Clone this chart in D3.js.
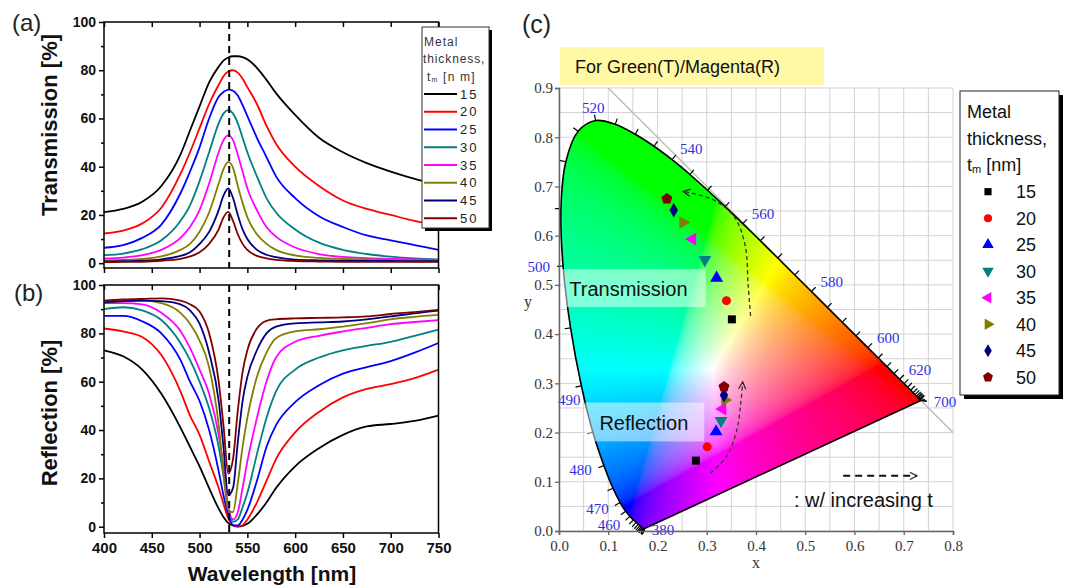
<!DOCTYPE html>
<html>
<head>
<meta charset="utf-8">
<script src="https://cdn.jsdelivr.net/npm/d3@7/dist/d3.min.js"></script>
<style>
body { margin:0; background:#fff; }
svg { display:block; font-family: Arial, "Liberation Sans", sans-serif; }
</style>
</head>
<body>
<svg id="fig" width="1072" height="587"></svg>
<script>
// ---------- spectra, panels (a) and (b) ----------
var wavelength = [400,420,440,460,480,490,500,510,520,525,530,535,540,545,550,560,570,580,600,625,650,675,700,725,750];
var thickness = [15,20,25,30,35,40,45,50];

// transmission [%]
var trans15 = [21.2,22.5,25.5,32,45,55,65,75,81.5,84,85.3,85.8,85.8,85.4,84.5,81,76,70.5,61.5,52,46,41.5,38,35,32.5];
var trans20 = [12.3,13.5,16.5,23,37,46,56,66,74,77.5,79.5,80,79,76.5,73,66,57,49.5,40,32,26,22.5,20,17.5,15.5];
var trans25 = [6.4,7.5,10.5,16,29,38,48,60,69,71,72,71.5,69.5,65.5,61,52,44,36,27,19.5,15,11.5,9.5,7.5,5.5];
var trans30 = [3.3,4,5.8,9.5,17.5,24,34,46,58,62,63.5,62,58,52,46,36,27,21,14,8.5,5.5,3.8,2.7,2,1.6];
var trans35 = [1.9,2.3,3.3,5.5,10.5,15,22,33,46,51,53,51,45,38,31,22,15,11,6.5,3.8,2.6,2.1,1.8,1.6,1.4];
var trans40 = [1.2,1.4,1.8,2.8,5.5,8,13,21,33,39,42,39.5,32,25,19,12,8,5.5,3.2,2.2,1.8,1.6,1.4,1.3,1.2];
var trans45 = [0.6,0.8,1,1.6,3,4.5,8,13,22,28,31,27,20,14,10,5.5,3.5,2.5,1.5,1.2,1,0.9,0.9,0.8,0.8];
var trans50 = [0.4,0.5,0.6,1,1.8,2.8,4.5,8,14,19,21.3,17.5,12,8,5.5,3,2,1.4,0.9,0.7,0.6,0.5,0.5,0.5,0.5];

// reflection [%]
var refl15 = [73,70.5,65,55,41,33,25,16,7.5,4,1.5,0.5,0,0.3,1.2,5,10,16,25,32.5,38,41.5,42.5,43.8,46];
var refl20 = [82,80.8,78.5,71,56,46,38,27,16,9.5,3.5,0.5,0.2,0.6,3,10,19,28,39,47.5,53.5,57,59,61.5,65];
var refl25 = [87.2,87.2,85,80,69,60,52,40,23,13,5,0.7,0.5,3,7,19,33,42,51.5,58.5,63.3,66,68.5,72,76];
var refl30 = [90,90.8,89.5,85.5,76,69,60,49,33,21,8,2,3,8,14,30,45,56,65,70,73,74.8,76.5,79,81.5];
var refl35 = [92.5,92.5,92,88.5,81,74,65,55,38,25,8,3,6,16,27,45,60,70,76.5,79,80.8,82.3,83.8,84.7,85.5];
var refl40 = [92.8,93.3,93.5,92.5,88.5,84,77,66,42,22,7,6,18,33,45,62,72,78,80.8,81.7,82.8,84.2,85.8,86.8,87.6];
var refl45 = [92.8,93.3,93.5,93.3,92,89.5,84,72,52,33,13,16,35,52,62,73,80,82.8,84.1,84.5,84.9,85.8,87,88.3,89.4];
var refl50 = [93.5,94,94.2,94.5,93.5,92,89,80,60,42,22,28,48,64,73,82,85.2,85.8,86.2,86.4,86.6,87,88,88.8,89.7];

var resonance = 531;
var xTicksW = [400,450,500,550,600,650,700,750];
var yTicksP = [0,20,40,60,80,100];

// ---------- colour coordinates, panel (c) ----------
var cieTransX = [0.351,0.340,0.320,0.296,0.271,0.252,0.233,0.219];
var cieTransY = [0.430,0.468,0.514,0.551,0.593,0.627,0.652,0.675];
var cieReflX = [0.278,0.301,0.319,0.329,0.332,0.337,0.335,0.335];
var cieReflY = [0.143,0.171,0.202,0.224,0.248,0.266,0.276,0.293];

// CIE 1931 spectral locus
var locusNm = [380,385,390,395,400,405,410,415,420,425,430,435,440,445,450,455,460,465,470,475,480,485,490,495,500,505,510,515,520,525,530,535,540,545,550,555,560,565,570,575,580,585,590,595,600,605,610,615,620,625,630,635,640,645,650,655,660,665,670,680,690,700];
var locusX = [0.1741,0.1740,0.1738,0.1736,0.1733,0.1730,0.1726,0.1721,0.1714,0.1703,0.1689,0.1669,0.1644,0.1611,0.1566,0.1510,0.1440,0.1355,0.1241,0.1096,0.0913,0.0687,0.0454,0.0235,0.0082,0.0039,0.0139,0.0389,0.0743,0.1142,0.1547,0.1929,0.2296,0.2658,0.3016,0.3373,0.3731,0.4087,0.4441,0.4788,0.5125,0.5448,0.5752,0.6029,0.6270,0.6482,0.6658,0.6801,0.6915,0.7006,0.7079,0.7140,0.7190,0.7230,0.7260,0.7283,0.7300,0.7311,0.7320,0.7334,0.7344,0.7347];
var locusY = [0.0050,0.0050,0.0049,0.0049,0.0048,0.0048,0.0048,0.0048,0.0051,0.0058,0.0069,0.0086,0.0109,0.0138,0.0177,0.0227,0.0297,0.0399,0.0578,0.0868,0.1327,0.2007,0.2950,0.4127,0.5384,0.6548,0.7502,0.8120,0.8338,0.8262,0.8059,0.7816,0.7543,0.7243,0.6923,0.6589,0.6245,0.5896,0.5547,0.5202,0.4866,0.4544,0.4242,0.3965,0.3725,0.3514,0.3340,0.3197,0.3083,0.2993,0.2920,0.2859,0.2809,0.2770,0.2740,0.2717,0.2700,0.2689,0.2680,0.2666,0.2656,0.2653];
var locusLabels = [380,460,470,480,490,500,520,540,560,580,600,620,700];
var whitePoint = [0.3127,0.3290];

// dashed guide arrows (chromaticity coords)
var arrowTrans = [[0.389,0.437],[0.384,0.50],[0.378,0.58],[0.356,0.638],[0.313,0.673],[0.252,0.690]];
var arrowRefl = [[0.308,0.118],[0.340,0.151],[0.361,0.205],[0.369,0.260],[0.373,0.303]];
var arrowKey = [[0.577,0.112],[0.727,0.112]];

var seriesColors = ["#000000","#ff0000","#0000ff","#008080","#ff00ff","#808000","#000080","#800000"];

var svg = d3.select("#fig");
svg.append("rect").attr("width",1072).attr("height",587).attr("fill","#fff");

var defs = svg.append("defs");
defs.append("marker").attr("id","openHead")
    .attr("viewBox","0 0 10 10").attr("refX",9).attr("refY",5)
    .attr("markerWidth",9).attr("markerHeight",9)
    .attr("markerUnits","userSpaceOnUse").attr("orient","auto")
    .append("path").attr("d","M1,1 L9,5 L1,9")
    .attr("fill","none").attr("stroke","#222").attr("stroke-width",1.3);

// ===== (a) and (b) =====
var xW = d3.scaleLinear().domain([400,750]).range([104,438.5]);
var yT = d3.scaleLinear().domain([-2,100]).range([268,22]);
var yR = d3.scaleLinear().domain([-2.6,100]).range([533,285]);

function styleAxis(sel, size) {
    sel.select(".domain").remove();
    sel.selectAll("line").attr("stroke","#000").attr("stroke-width",1.5);
    sel.selectAll("text").style("font-family","Arial, 'Liberation Sans', sans-serif")
        .style("font-size",size+"px").style("font-weight","bold").attr("fill","#111");
}

function spectraPanel(yS, series, showXLabels) {
    var g = svg.append("g");
    var top = yS.range()[1], bot = yS.range()[0];

    var line = d3.line()
        .x(function(d){ return xW(d[0]); })
        .y(function(d){ return yS(d[1]); })
        .curve(d3.curveMonotoneX);

    series.forEach(function(vals, k) {
        g.append("path")
            .datum(vals.map(function(v,i){ return [wavelength[i], v]; }))
            .attr("d", line)
            .attr("fill","none")
            .attr("stroke", seriesColors[k])
            .attr("stroke-width", 1.8);
    });

    g.append("line")
        .attr("x1", xW(resonance)).attr("x2", xW(resonance))
        .attr("y1", top).attr("y2", bot)
        .attr("stroke","#000").attr("stroke-width",2).attr("stroke-dasharray","7,5");

    g.append("rect")
        .attr("x", xW(400)).attr("y", top)
        .attr("width", xW(750)-xW(400)).attr("height", bot-top)
        .attr("fill","none").attr("stroke","#000").attr("stroke-width",1.5);

    g.append("g").attr("transform","translate(0,"+bot+")")
        .call(d3.axisBottom(xW).tickValues(xTicksW).tickSize(5).tickPadding(4)
            .tickFormat(showXLabels ? d3.format("d") : ""))
        .call(styleAxis, 15);
    g.append("g").attr("transform","translate(0,"+top+")")
        .call(d3.axisTop(xW).tickValues(xTicksW).tickSize(-5).tickFormat(""))
        .call(styleAxis, 14);
    g.append("g").attr("transform","translate("+xW(400)+",0)")
        .call(d3.axisLeft(yS).tickValues(yTicksP).tickSize(5).tickPadding(3))
        .call(styleAxis, 14);
    g.append("g").attr("transform","translate("+xW(400)+",0)")
        .call(d3.axisLeft(yS).tickValues([10,30,50,70,90]).tickSize(3).tickFormat(""))
        .call(styleAxis, 14);
    return g;
}

spectraPanel(yT, [trans15,trans20,trans25,trans30,trans35,trans40,trans45,trans50], false);
spectraPanel(yR, [refl15,refl20,refl25,refl30,refl35,refl40,refl45,refl50], true);

svg.append("text").attr("transform","translate(57,125) rotate(-90)")
    .attr("text-anchor","middle").attr("font-size",22).attr("font-weight","bold")
    .attr("fill","#111").text("Transmission [%]");
svg.append("text").attr("transform","translate(57,413) rotate(-90)")
    .attr("text-anchor","middle").attr("font-size",22).attr("font-weight","bold")
    .attr("fill","#111").text("Reflection [%]");
svg.append("text").attr("x",272).attr("y",581)
    .attr("text-anchor","middle").attr("font-size",21).attr("font-weight","bold")
    .attr("fill","#111").text("Wavelength [nm]");

svg.append("text").attr("x",12).attr("y",31).attr("font-size",24).attr("fill","#222").text("(a)");
svg.append("text").attr("x",14).attr("y",301).attr("font-size",24).attr("fill","#222").text("(b)");
svg.append("text").attr("x",522).attr("y",33).attr("font-size",25).attr("fill","#222").text("(c)");

// legend (a)
var la = svg.append("g");
la.append("rect").attr("x",425).attr("y",30).attr("width",67).attr("height",201).attr("fill","#000");
la.append("rect").attr("x",422).attr("y",27).attr("width",67).attr("height",201)
    .attr("fill","#fff").attr("stroke","#333").attr("stroke-width",1);
la.append("text").attr("x",424).attr("y",46).attr("font-size",12).attr("letter-spacing",1).attr("fill","#333").text("Metal");
la.append("text").attr("x",423).attr("y",63).attr("font-size",12).attr("letter-spacing",0.9).attr("fill","#333").text("thickness,");
var tmA = la.append("text").attr("x",427).attr("y",81).attr("font-size",12).attr("letter-spacing",1.2).attr("fill","#333");
tmA.append("tspan").text("t");
tmA.append("tspan").attr("font-size",7).attr("dy",1).text("m");
tmA.append("tspan").attr("dy",-1).text(" [n m]");
thickness.forEach(function(t,k){
    var yy = 94 + k*17.75;
    la.append("line").attr("x1",424).attr("x2",457).attr("y1",yy).attr("y2",yy)
        .attr("stroke",seriesColors[k]).attr("stroke-width",1.8);
    la.append("text").attr("x",460).attr("y",yy+4.5).attr("font-size",13)
        .attr("letter-spacing",2).attr("fill","#222").text(t);
});

// ===== (c) chromaticity diagram =====
var xC = d3.scaleLinear().domain([0,0.8]).range([559,953]);
var yC = d3.scaleLinear().domain([0,0.9]).range([531,88]);
var gc = svg.append("g");
var serif = "'Liberation Serif','DejaVu Serif',serif";

d3.range(0,0.8001,0.05).forEach(function(v){
    gc.append("line").attr("x1",xC(v)).attr("x2",xC(v)).attr("y1",yC(0)).attr("y2",yC(0.9))
        .attr("stroke","#d2d2d2").attr("stroke-width",1);
});
d3.range(0,0.9001,0.05).forEach(function(v){
    gc.append("line").attr("x1",xC(0)).attr("x2",xC(0.8)).attr("y1",yC(v)).attr("y2",yC(v))
        .attr("stroke","#d2d2d2").attr("stroke-width",1);
});
gc.append("line").attr("x1",xC(0.1)).attr("y1",yC(0.9)).attr("x2",xC(0.8)).attr("y2",yC(0.2))
    .attr("stroke","#b8b8b8").attr("stroke-width",1.3);

function xyToRgb(x, y) {
    var X = x/y, Y = 1, Z = (1-x-y)/y;
    var c = [3.2406*X - 1.5372*Y - 0.4986*Z,
            -0.9689*X + 1.8758*Y + 0.0415*Z,
             0.0557*X - 0.2040*Y + 1.0570*Z].map(function(v){ return Math.max(v,0); });
    var m = Math.max(c[0],c[1],c[2]) || 1;
    return c.map(function(v){
        v = v/m;
        v = v <= 0.0031308 ? 12.92*v : 1.055*Math.pow(v,1/2.4) - 0.055;
        return Math.round(255*v);
    });
}

var locusPx = locusNm.map(function(d,i){ return [xC(locusX[i]), yC(locusY[i])]; });
// smooth spectral curve, closed by the straight purple line
var gamutPath = d3.line().curve(d3.curveCatmullRom)(locusPx) + "Z";

defs.append("clipPath").attr("id","gamutClip")
    .append("path").attr("d", gamutPath);

(function paintGamut(){
    var x0 = xC(0), y0 = yC(0.9);
    var cw = Math.round(xC(0.8)-x0), ch = Math.round(yC(0)-y0);
    var cv = document.createElement("canvas");
    cv.width = cw; cv.height = ch;
    var ctx = cv.getContext("2d");
    var im = ctx.createImageData(cw, ch);
    for (var j=0; j<ch; j++) {
        for (var i=0; i<cw; i++) {
            var c = xyToRgb(Math.max(xC.invert(x0+i+0.5),0.001), Math.max(yC.invert(y0+j+0.5),0.002));
            var o = (j*cw+i)*4;
            im.data[o]=c[0]; im.data[o+1]=c[1]; im.data[o+2]=c[2]; im.data[o+3]=255;
        }
    }
    ctx.putImageData(im,0,0);
    gc.append("image").attr("x",x0).attr("y",y0).attr("width",cw).attr("height",ch)
        .attr("preserveAspectRatio","none")
        .attr("clip-path","url(#gamutClip)")
        .attr("href", cv.toDataURL());
})();

gc.append("path").attr("d", gamutPath)
    .attr("fill","none").attr("stroke","#000").attr("stroke-width",1.6);

// locus ticks and wavelength labels
var wpPx = [xC(whitePoint[0]), yC(whitePoint[1])];
function outwardNormal(i) {
    var a = locusPx[Math.max(i-1,0)], b = locusPx[Math.min(i+1,locusPx.length-1)];
    var p = locusPx[i];
    var tx = b[0]-a[0], ty = b[1]-a[1], len = Math.hypot(tx,ty);
    var ax = p[0]-wpPx[0], ay = p[1]-wpPx[1];
    if (len < 1.5) { var l2 = Math.hypot(ax,ay); return [ax/l2, ay/l2]; }
    var nx = ty/len, ny = -tx/len;
    if (nx*ax + ny*ay < 0) { nx = -nx; ny = -ny; }
    return [nx, ny];
}
locusNm.forEach(function(nm,i){
    var p = locusPx[i], n = outwardNormal(i);
    gc.append("line").attr("x1",p[0]).attr("y1",p[1])
        .attr("x2",p[0]+6*n[0]).attr("y2",p[1]+6*n[1])
        .attr("stroke","#000").attr("stroke-width",1.2);
    if (locusLabels.indexOf(nm) < 0) return;
    var tx, ty, anchor;
    if (nm === 380) { tx = p[0]+7; ty = p[1]+6; anchor = "start"; }
    else {
        tx = p[0]+13*n[0]; ty = p[1]+13*n[1]+5;
        anchor = Math.abs(n[0]) < 0.5 ? "middle" : (n[0] < 0 ? "end" : "start");
        // a label that would straddle the y axis goes just inside it instead
        if (anchor === "end" && tx > xC(0) && tx - 24 < xC(0)) { tx = xC(0) - 1; ty += 11; anchor = "start"; }
    }
    gc.append("text").attr("x",tx).attr("y",ty).attr("text-anchor",anchor)
        .attr("font-family",serif).attr("font-size",15).attr("fill","#2f2fe0").text(nm);
});

// axes of (c)
var axC = gc.append("g").attr("transform","translate(0,"+yC(0)+")")
    .call(d3.axisBottom(xC).tickValues(d3.range(0,0.8001,0.1)).tickSize(4).tickPadding(5).tickFormat(d3.format(".1f")));
var ayC = gc.append("g").attr("transform","translate("+xC(0)+",0)")
    .call(d3.axisLeft(yC).tickValues(d3.range(0,0.9001,0.1)).tickSize(4).tickPadding(2).tickFormat(d3.format(".1f")));
[axC, ayC].forEach(function(a){
    a.select(".domain").attr("stroke","#666").attr("stroke-width",1.5);
    a.selectAll("line").attr("stroke","#666").attr("stroke-width",1.3);
    a.selectAll("text").style("font-family",serif).style("font-size","15px").attr("fill","#333");
});
gc.append("text").attr("x",xC(0.4)).attr("y",568).attr("text-anchor","middle")
    .attr("font-family",serif).attr("font-size",16).attr("fill","#333").text("x");
gc.append("text").attr("x",524).attr("y",yC(0.455)).attr("font-family",serif)
    .attr("font-size",16).attr("fill","#333").text("y");

// title box
gc.append("rect").attr("x",560).attr("y",47).attr("width",264).attr("height",38).attr("fill","#fff8a4");
gc.append("text").attr("x",575).attr("y",73).attr("font-size",18).attr("fill","#111").text("For Green(T)/Magenta(R)");

// region captions
gc.append("rect").attr("x",xC(0.006)).attr("y",yC(0.532))
    .attr("width",xC(0.298)-xC(0.006)).attr("height",yC(0.455)-yC(0.532))
    .attr("fill","#fff").attr("fill-opacity",0.5);
gc.append("text").attr("x",xC(0.021)).attr("y",yC(0.477)).attr("font-size",20).attr("fill","#111").text("Transmission");
gc.append("rect").attr("x",xC(0.053)).attr("y",yC(0.261))
    .attr("width",xC(0.295)-xC(0.053)).attr("height",yC(0.182)-yC(0.261))
    .attr("fill","#fff").attr("fill-opacity",0.5);
gc.append("text").attr("x",xC(0.082)).attr("y",yC(0.205)).attr("font-size",20).attr("fill","#111").text("Reflection");

// dashed arrows
var lineC = d3.line().x(function(d){ return xC(d[0]); }).y(function(d){ return yC(d[1]); });
[arrowTrans, arrowRefl].forEach(function(pts){
    gc.append("path").datum(pts).attr("d", lineC.curve(d3.curveCatmullRom))
        .attr("fill","none").attr("stroke","#333").attr("stroke-width",1.3)
        .attr("stroke-dasharray","4,3").attr("marker-end","url(#openHead)");
});
gc.append("path").datum(arrowKey).attr("d", d3.line().x(function(d){ return xC(d[0]); }).y(function(d){ return yC(d[1]); }))
    .attr("fill","none").attr("stroke","#111").attr("stroke-width",2)
    .attr("stroke-dasharray","7,5").attr("marker-end","url(#openHead)");
gc.append("text").attr("x",xC(0.477)).attr("y",yC(0.049)).attr("font-size",20).attr("fill","#111")
    .text(": w/ increasing t");

// markers
var symbolPentagon = {
    draw: function(ctx, size) {
        var r = Math.sqrt(size/2.378);
        for (var k=0; k<5; k++) {
            var a = -Math.PI/2 + k*2*Math.PI/5;
            if (k) ctx.lineTo(r*Math.cos(a), r*Math.sin(a));
            else ctx.moveTo(r*Math.cos(a), r*Math.sin(a));
        }
        ctx.closePath();
    }
};
var markerTypes = [d3.symbolSquare, d3.symbolCircle, d3.symbolTriangle, d3.symbolTriangle,
                   d3.symbolTriangle, d3.symbolTriangle, d3.symbolDiamond, symbolPentagon];
var markerTurn = [0,0,0,180,-90,90,0,0];
var markerSize = [64,64,72,72,72,72,62,80];

function drawMarker(parent, k, px, py, scale) {
    parent.append("path")
        .attr("d", d3.symbol().type(markerTypes[k]).size(markerSize[k]*scale)())
        .attr("transform","translate("+px+","+py+") rotate("+markerTurn[k]+")")
        .attr("fill", seriesColors[k]);
}
thickness.forEach(function(t,k){
    drawMarker(gc, k, xC(cieTransX[k]), yC(cieTransY[k]), 1);
});
thickness.forEach(function(t,k){
    drawMarker(gc, k, xC(cieReflX[k]), yC(cieReflY[k]), 1);
});

// legend (c)
var lc = svg.append("g");
lc.append("rect").attr("x",964).attr("y",95).attr("width",99).attr("height",304).attr("fill","#000");
lc.append("rect").attr("x",960).attr("y",91).attr("width",99).attr("height",304)
    .attr("fill","#fff").attr("stroke","#222").attr("stroke-width",1);
lc.append("text").attr("x",967).attr("y",118).attr("font-size",18).attr("fill","#111").text("Metal");
lc.append("text").attr("x",967).attr("y",145).attr("font-size",18).attr("fill","#111").text("thickness,");
var tmC = lc.append("text").attr("x",967).attr("y",171).attr("font-size",18).attr("fill","#111");
tmC.append("tspan").text("t");
tmC.append("tspan").attr("font-size",11).attr("dy",2).text("m");
tmC.append("tspan").attr("dy",-2).text(" [nm]");
thickness.forEach(function(t,k){
    var yy = 191.7 + k*26.5;
    drawMarker(lc, k, 988, yy, 0.8);
    lc.append("text").attr("x",1016).attr("y",yy+6.5).attr("font-size",18).attr("fill","#111").text(t);
});
</script>
</body>
</html>
